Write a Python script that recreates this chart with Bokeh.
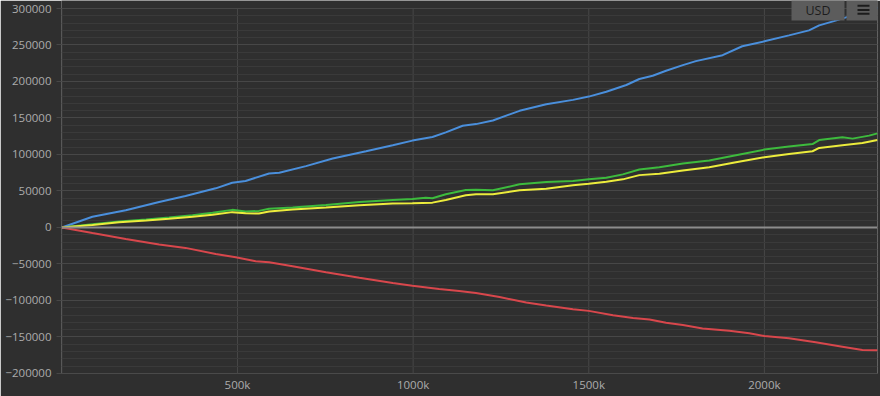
from bokeh.plotting import figure
from bokeh.models import FixedTicker, Span, Label, BoxAnnotation, BasicTickFormatter, Range1d
from bokeh.embed import file_html
from bokeh.resources import INLINE

# ---- data ----
blue_x = [0, 87000, 182000, 277000, 352000, 438000, 485000, 523000, 590000, 619000, 695000,
          771000, 866000, 942000, 998000, 1055000, 1093000, 1141000, 1179000, 1227000, 1303000,
          1379000, 1455000, 1500000, 1550000, 1607000, 1644000, 1682000, 1720000, 1768000,
          1805000, 1881000, 1937000, 2000000, 2070000, 2127000, 2156000, 2198000, 2260000, 2322000]
blue_y = [0, 14600, 23700, 35000, 43200, 53600, 61300, 63600, 74000, 74900, 84000,
          94400, 104400, 112600, 119000, 123900, 130300, 139400, 141600, 146600, 159800,
          168800, 174800, 179300, 186000, 195200, 203400, 207900, 214700, 222400,
          227900, 236000, 248300, 255000, 263200, 270000, 276900, 282700, 292000, 301000]

green_x = [0, 87000, 163000, 240000, 305000, 372000, 429000, 485000, 523000, 561000, 590000,
           657000, 752000, 847000, 942000, 998000, 1036000, 1055000, 1093000, 1150000, 1179000,
           1227000, 1303000, 1379000, 1455000, 1500000, 1550000, 1597000, 1644000, 1701000,
           1768000, 1843000, 1919000, 2000000, 2070000, 2137000, 2156000, 2222000, 2251000,
           2298000, 2322000]
green_y = [0, 4500, 8200, 10900, 13600, 16900, 20000, 24100, 21800, 22700, 25500,
           27200, 30900, 35000, 37700, 39100, 40800, 40000, 45500, 51300, 51700,
           50900, 59100, 62200, 63600, 65900, 68100, 72700, 79500, 82600,
           87700, 91700, 99000, 106700, 110800, 114300, 119800, 123500, 121700,
           125800, 128900]

yellow_x = [0, 87000, 163000, 240000, 305000, 372000, 429000, 485000, 523000, 561000, 590000,
            657000, 752000, 847000, 942000, 998000, 1055000, 1093000, 1150000, 1179000,
            1227000, 1303000, 1379000, 1455000, 1500000, 1550000, 1597000, 1644000, 1701000,
            1768000, 1843000, 1919000, 2000000, 2070000, 2137000, 2156000, 2222000, 2279000,
            2322000]
yellow_y = [0, 3500, 7000, 9500, 12000, 14800, 17500, 21000, 19500, 19000, 21800,
            24500, 27200, 30500, 32700, 33200, 34000, 37700, 44100, 45500,
            45500, 50900, 53100, 57700, 59900, 62600, 65900, 71700, 73500,
            78100, 82600, 89400, 96200, 100700, 104400, 108900, 112600, 115700,
            119800]

red_x = [0, 87000, 182000, 277000, 352000, 438000, 495000, 552000, 590000, 657000, 752000,
         847000, 942000, 998000, 1074000, 1131000, 1179000, 1246000, 1322000, 1379000,
         1455000, 1500000, 1569000, 1626000, 1673000, 1720000, 1768000, 1824000, 1900000,
         1957000, 2000000, 2070000, 2146000, 2222000, 2279000, 2322000]
red_y = [0, -7700, -15900, -23500, -28000, -36300, -40800, -46300, -47600, -53100, -61300,
         -68900, -76200, -79800, -84400, -87100, -89800, -95300, -102900, -107000,
         -112000, -114300, -120200, -123900, -126100, -130700, -133800, -138300, -141600,
         -145100, -148800, -151900, -157400, -163400, -167800, -168200]

x_ticks = [0, 500000, 1000000, 1500000, 2000000]
x_tick_labels = ["", "500k", "1000k", "1500k", "2000k"]
y_ticks = [-200000, -150000, -100000, -50000, 0, 50000, 100000, 150000, 200000, 250000, 300000]
y_minor_step = 10000
x_max = 2322000
currency = "USD"

BG = "#2f2f2f"
MAJOR = "#474747"
MINOR = "#3a3a3a"
LABEL = "#acacac"
BTN = "#5c5c5c"
BTN_TXT = "#1c1c1c"
FONT = "Open Sans"

# small headroom above the top tick so its label and the toolbar buttons fit
y_top = y_ticks[-1] + (y_ticks[-1] - y_ticks[0]) * 8 / 365

p = figure(width=880, height=396, output_backend="svg", toolbar_location=None,
           x_range=Range1d(-1000, x_max), y_range=Range1d(y_ticks[0] - 100, y_top),
           min_border_left=61, min_border_right=3, min_border_top=0, min_border_bottom=23,
           background_fill_color=BG, border_fill_color=BG, outline_line_color=None)

p.xaxis.ticker = FixedTicker(ticks=x_ticks, minor_ticks=[])
p.xaxis.major_label_overrides = {t: l for t, l in zip(x_ticks, x_tick_labels)}
minor = [v for v in range(y_ticks[0], y_ticks[-1] + 1, y_minor_step)]
p.yaxis.ticker = FixedTicker(ticks=y_ticks, minor_ticks=minor)
p.yaxis.formatter = BasicTickFormatter(use_scientific=False)

for ax in (p.xaxis[0], p.yaxis[0]):
    ax.axis_line_color = None
    ax.minor_tick_line_color = None
    ax.major_tick_in = 0
    ax.minor_tick_out = 0
    ax.minor_tick_in = 0
    ax.major_label_text_color = LABEL
    ax.major_label_text_font = FONT
    ax.major_label_text_font_size = "11.5px"
p.xaxis.major_tick_line_color = None
p.xaxis.major_tick_out = 0
p.xaxis.major_label_standoff = 3
p.yaxis.major_tick_line_color = MAJOR
p.yaxis.major_tick_out = 5
p.yaxis.major_label_standoff = 5

p.xgrid.grid_line_color = None
p.ygrid.grid_line_color = MAJOR
p.ygrid.minor_grid_line_color = MINOR

# vertical grid lines limited to the tick span
p.segment(x0=x_ticks, y0=[y_ticks[0]] * len(x_ticks), x1=x_ticks, y1=[y_ticks[-1]] * len(x_ticks),
          line_color=MAJOR, line_width=1, level="underlay")

p.add_layout(Span(location=0, dimension="width", line_color="#8c8c8c", line_width=2))

p.line(blue_x, blue_y, line_color="#4a8fdc", line_width=2)
p.line(green_x, green_y, line_color="#3dbb3d", line_width=2)
p.line(yellow_x, yellow_y, line_color="#ecec3c", line_width=2)
p.line(red_x, red_y, line_color="#d8474c", line_width=2)

# currency / menu buttons (top right)
def cbox(l, r, t, b, color):
    return BoxAnnotation(left=l, right=r, top=t, bottom=b,
                         left_units="canvas", right_units="canvas",
                         top_units="canvas", bottom_units="canvas",
                         fill_color=color, fill_alpha=1, line_color=None, level="overlay")

p.add_layout(cbox(791, 844, 0, 20, BTN))
p.add_layout(cbox(846, 880, 0, 20, BTN))
for top in (4.3, 8.5, 12.3):
    p.add_layout(cbox(857, 869, top, top + 2, BTN_TXT))
p.add_layout(Label(x=817.5, y=10, x_units="canvas", y_units="canvas", text=currency,
                   text_font=FONT, text_font_size="12.5px", text_color=BTN_TXT,
                   text_align="center", text_baseline="middle", level="overlay"))

open("out.html", "w").write(file_html(p, INLINE))
